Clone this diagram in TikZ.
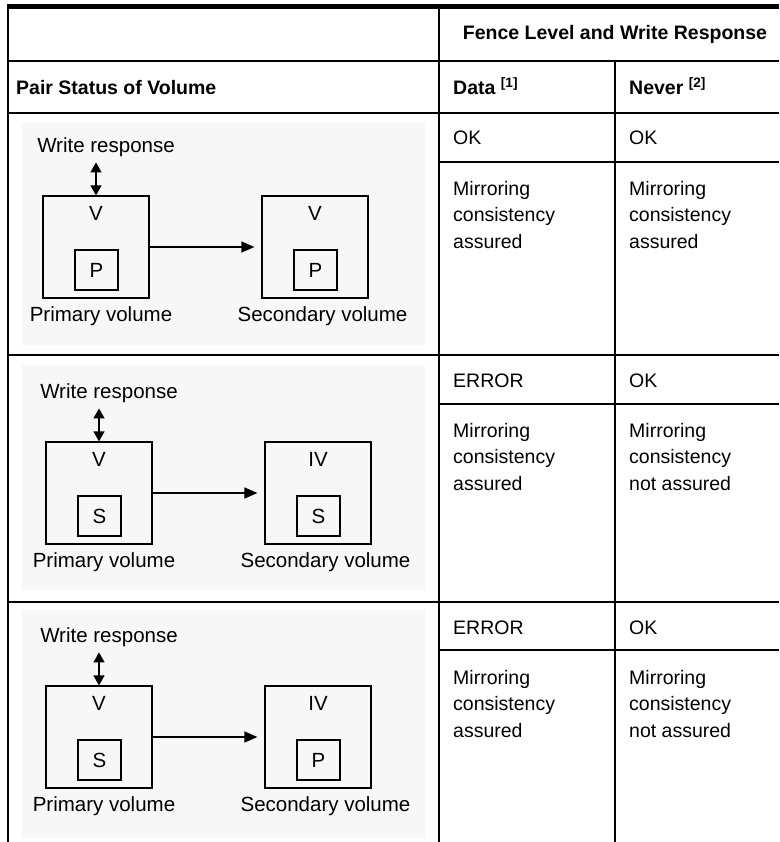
\documentclass[tikz,border=0pt]{standalone}
\usepackage{fontspec}
\setmainfont{Liberation Sans}
\usetikzlibrary{arrows.meta}

\begin{document}
\begin{tikzpicture}[x=1pt,y=-1pt,
  rule/.style={line width=2pt},
  toprule/.style={line width=5pt},
  cell/.style={anchor=base west, inner sep=0pt, font=\fontsize{19.5}{26.5}\selectfont},
  para/.style={anchor=north west, inner sep=0pt, align=left, font=\fontsize{19.5}{26.5}\selectfont},
  head/.style={anchor=base west, inner sep=0pt, font=\fontsize{19.5}{24}\selectfont\bfseries},
  shot/.style={fill=black!3, draw=none},
  vol/.style={draw, line width=1.2pt, minimum width=106pt, minimum height=102pt, inner sep=0pt},
  tag/.style={draw, line width=1.2pt, minimum width=43pt, minimum height=40pt, inner sep=0pt, font=\fontsize{20.5}{20.5}\selectfont},
  lbl/.style={inner sep=0pt, font=\fontsize{20.5}{20.5}\selectfont},
  io/.style={line width=1.3pt, {Triangle[length=10pt,width=11pt]}-{Triangle[length=10pt,width=11pt]}},
  copy/.style={line width=1.3pt, -{Triangle[length=13pt,width=11pt]}, shorten >=7pt},
]
\useasboundingbox (0,0) rectangle (779,842);

% screenshot backgrounds of the three pair diagrams
\fill[shot] (22,123) rectangle (425,345);
\fill[shot] (22,365) rectangle (425,590);
\fill[shot] (22,610) rectangle (425,838);

% table rules
\draw[toprule] (7,6.5) -- (779,6.5);
\draw[rule] (8,9) -- (8,842);
\draw[rule] (439,9) -- (439,842);
\draw[rule] (615,61) -- (615,842);
\draw[rule] (8,61) -- (779,61);
\draw[rule] (8,113) -- (779,113);
\draw[rule] (439,162) -- (779,162);
\draw[rule] (8,355) -- (779,355);
\draw[rule] (439,404) -- (779,404);
\draw[rule] (8,602) -- (779,602);
\draw[rule] (439,650) -- (779,650);

% header
\node[head, anchor=base] (fence) at (615,40) {Fence Level and Write Response};
\node[head] (pair) at (16,95) {Pair Status of Volume};
\node[head] (data) at (453,95) {Data \textsuperscript{[1]}};
\node[head] (never) at (629,95) {Never \textsuperscript{[2]}};

% fence level responses
\node[cell] (r1d) at (453,145) {OK};
\node[cell] (r1n) at (629,145) {OK};
\node[para] (r1dm) at (453,181) {Mirroring\\consistency\\assured};
\node[para] (r1nm) at (629,181) {Mirroring\\consistency\\assured};

\node[cell] (r2d) at (453,387) {ERROR};
\node[cell] (r2n) at (629,387) {OK};
\node[para] (r2dm) at (453,423) {Mirroring\\consistency\\assured};
\node[para] (r2nm) at (629,423) {Mirroring\\consistency\\not assured};

\node[cell] (r3d) at (453,634) {ERROR};
\node[cell] (r3n) at (629,634) {OK};
\node[para] (r3dm) at (453,670) {Mirroring\\consistency\\assured};
\node[para] (r3nm) at (629,670) {Mirroring\\consistency\\not assured};

% pair diagrams: row, horizontal offset, top of boxes, primary status,
% secondary status, primary tag, secondary tag
\foreach \r/\dx/\t/\ps/\ss/\pt/\st in {1/-3/196/V/V/P/P, 2/0/442/V/IV/S/S, 3/0/686/V/IV/S/P}{
  \node[vol] (prim\r) at (99+\dx,\t+51) {};
  \node[vol] (sec\r) at (318+\dx,\t+51) {};
  \node[lbl] (pst\r) at (99+\dx,\t+17) {\ps};
  \node[lbl] (sst\r) at (318+\dx,\t+17) {\ss};
  \node[tag] (ptag\r) at (99.5+\dx,\t+74) {\pt};
  \node[tag] (stag\r) at (318.5+\dx,\t+74) {\st};
  \node[lbl] (wr\r) at (109+\dx,\t-49) {Write response};
  \node[lbl] (pl\r) at (104+\dx,\t+120) {Primary volume};
  \node[lbl] (sl\r) at (325.5+\dx,\t+120) {Secondary volume};
  \coordinate (host\r) at ([yshift=33pt]prim\r.north);
  \draw[io] (host\r) -- (prim\r.north);
  \draw[copy] (prim\r.east) -- (sec\r.west);
}
\end{tikzpicture}
\end{document}
